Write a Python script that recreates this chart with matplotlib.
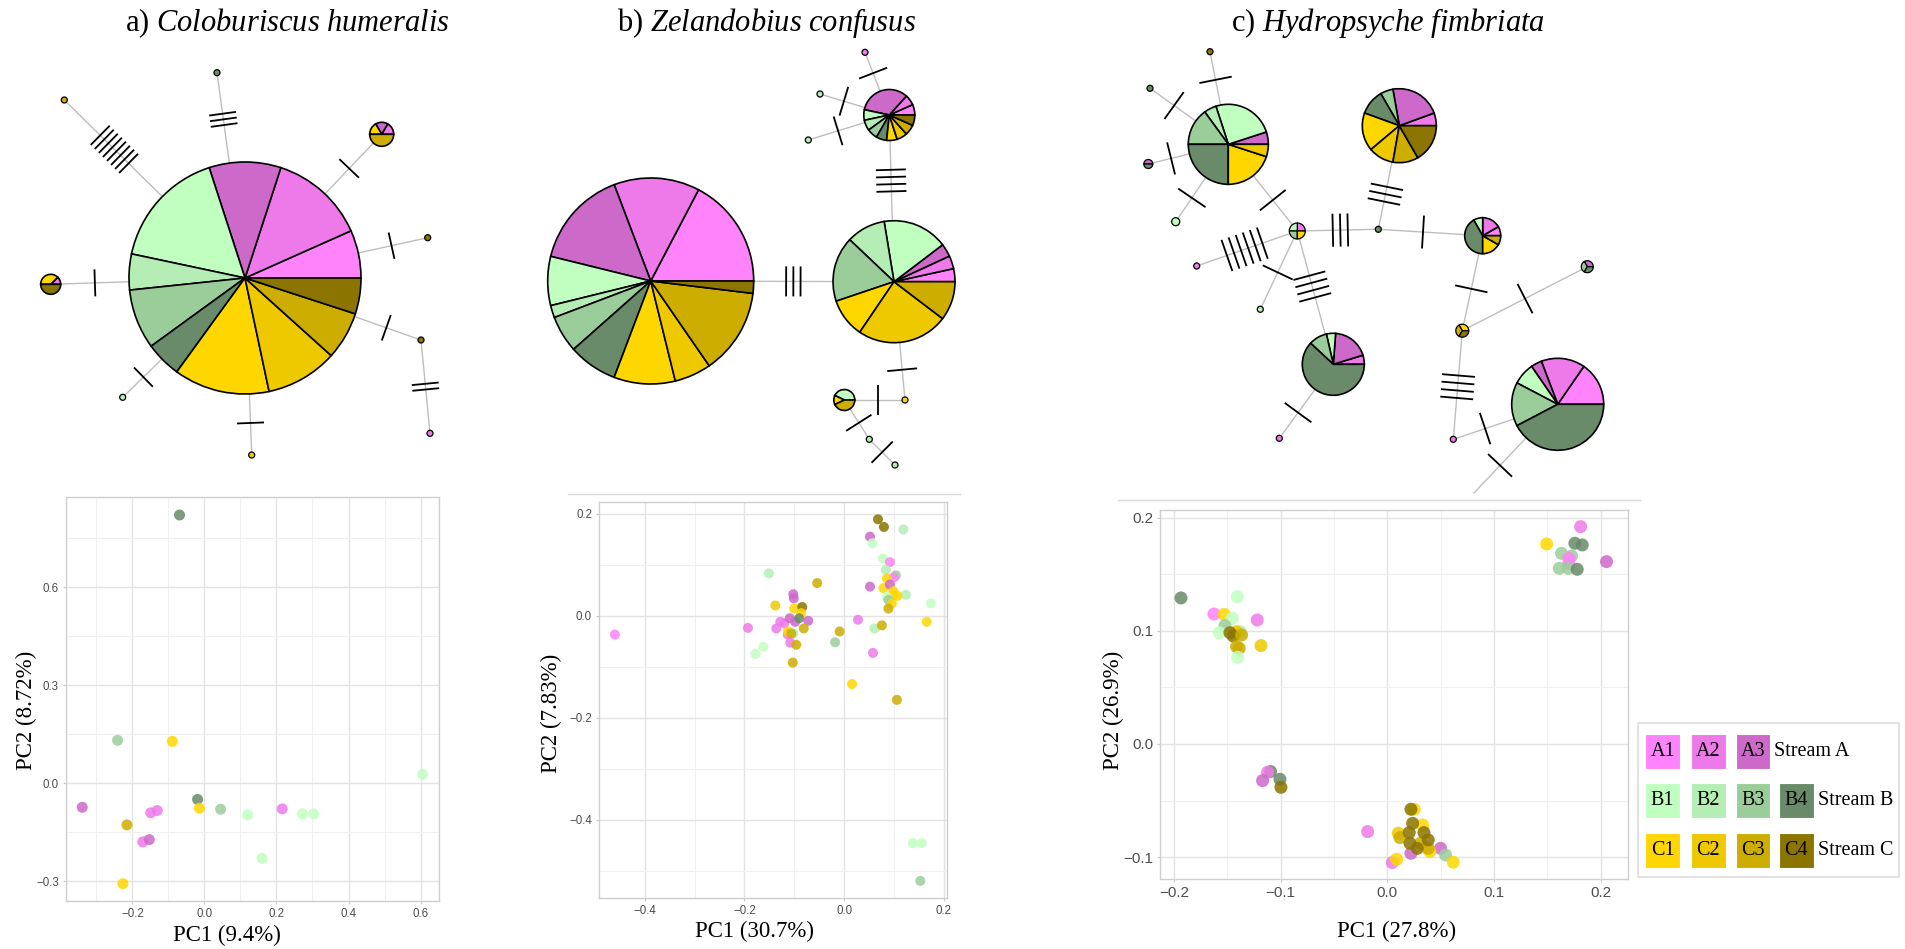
import numpy as np
import matplotlib.pyplot as plt
from matplotlib.patches import Rectangle

plt.rcParams['font.family'] = 'Liberation Serif'
plt.rcParams['mathtext.fontset'] = 'custom'
plt.rcParams['mathtext.rm'] = 'Liberation Serif'
plt.rcParams['mathtext.it'] = 'Liberation Serif:italic'

W, H = 1906, 949

groups = ['A1', 'A2', 'A3', 'B1', 'B2', 'B3', 'B4', 'C1', 'C2', 'C3', 'C4']
colours = ['#FF83FA', '#EE7AE9', '#CD69C9', '#C1FFC1', '#B4EEB4', '#9BCD9B',
           '#698B69', '#FFD700', '#EEC900', '#CDAD00', '#8B7500']
colour = dict(zip(groups, colours))

titles = ['a) $\\mathit{Coloburiscus\\ humeralis}$',
          'b) $\\mathit{Zelandobius\\ confusus}$',
          'c) $\\mathit{Hydropsyche\\ fimbriata}$']
title_x = [287, 767, 1388]

# ---- haplotype networks (node x, node y from top, radius, haplotype counts per site)
a_x = [245, 381.7, 50.7, 217, 64.3, 427.7, 421, 430, 122.7, 251.7]
a_y = [278, 134.3, 284.3, 72.7, 100, 237.7, 340, 433.3, 397.3, 455]
a_r = [116, 12, 10, 3, 3, 3, 3, 3, 3, 3]
a_comp = [
    {'A1': 4, 'A2': 8, 'A3': 6, 'B1': 10, 'B2': 3, 'B3': 5, 'B4': 3, 'C1': 8, 'C2': 6, 'C3': 4, 'C4': 3},
    {'A2': 1, 'A3': 1, 'C1': 1, 'C3': 3},
    {'A2': 1, 'C1': 3, 'C4': 4},
    {'B4': 1}, {'C3': 1}, {'C4': 1}, {'C4': 1}, {'A2': 1}, {'B2': 1}, {'C2': 1},
]
a_edges = [(0, 1, 1), (0, 2, 1), (0, 3, 3), (0, 4, 8), (0, 5, 1),
           (0, 6, 1), (6, 7, 2), (0, 8, 1), (0, 9, 1)]

b_x = [650.7, 894, 889.3, 865, 820, 808.3, 905, 844.3, 869.3, 895]
b_y = [281, 281.7, 115, 52.3, 94, 140, 400, 400, 439.3, 465]
b_r = [103, 61, 25.5, 3, 3, 3, 3, 10.5, 3, 3]
b_comp = [
    {'A1': 9, 'A2': 7, 'A3': 8, 'B1': 4, 'B2': 1, 'B3': 3, 'B4': 4, 'C1': 5, 'C2': 3, 'C3': 7, 'C4': 1},
    {'A1': 1, 'A2': 1, 'A3': 1, 'B1': 5, 'B2': 3, 'B3': 5, 'C1': 3, 'C2': 7, 'C3': 3},
    {'A1': 1, 'A2': 1, 'A3': 5, 'B1': 1, 'B2': 1, 'B3': 1, 'B4': 1, 'C1': 1, 'C2': 1, 'C3': 1, 'C4': 1},
    {'A2': 1}, {'B2': 1}, {'B2': 1}, {'C1': 1},
    {'B1': 3, 'C1': 1, 'C3': 3},
    {'B2': 1}, {'B2': 1},
]
b_edges = [(0, 1, 3), (2, 1, 4), (2, 3, 1), (2, 4, 1), (2, 5, 1),
           (1, 6, 1), (6, 7, 1), (7, 8, 1), (8, 9, 1)]

c_x = [1228.3, 1399.3, 1297.3, 1378.3, 1482.7, 1333.3, 1557.7, 1587.3, 1462.3,
       1210, 1150, 1148.3, 1175.7, 1196.7, 1260.3, 1279.3, 1453.3, 1474]
c_y = [144.3, 125.7, 231, 229.3, 235.7, 364.3, 404.3, 266.7, 330.7,
       51.7, 88.3, 164, 221.7, 266, 309.3, 438.3, 439.3, 493]
c_r = [40, 37, 8, 3, 18, 31, 46, 6, 6.5, 3, 3, 4.5, 4, 3, 3, 3, 3, 0]
c_comp = [
    {'A3': 1, 'B1': 5, 'B2': 1, 'B3': 3, 'B4': 5, 'C1': 4, 'C2': 1},
    {'A2': 1, 'A3': 4, 'B3': 1, 'B4': 2, 'C1': 3, 'C2': 2, 'C3': 2, 'C4': 3},
    {'A2': 1, 'B1': 1, 'B3': 1, 'C1': 1},
    {'B4': 1},
    {'A1': 1, 'A2': 2, 'B1': 1, 'B4': 5, 'C1': 2, 'C3': 1},
    {'A2': 1, 'A3': 4, 'B1': 1, 'B3': 2, 'B4': 13},
    {'A1': 4, 'A2': 4, 'A3': 1, 'B1': 2, 'B3': 4, 'B4': 11},
    {'A3': 1, 'B3': 1, 'B4': 1},
    {'C1': 1, 'C3': 1, 'C4': 1},
    {'C4': 1}, {'B4': 1}, {'A3': 1, 'B4': 1}, {'B1': 1}, {'A2': 1}, {'B2': 1},
    {'A2': 1}, {'A2': 1}, {},
]
c_edges = [(0, 9, 1), (0, 10, 1), (0, 11, 1), (0, 12, 1), (0, 2, 1), (2, 3, 3),
           (3, 1, 3), (3, 4, 1), (2, 13, 6), (2, 14, 1), (2, 5, 4), (5, 15, 1),
           (4, 8, 1), (8, 7, 1), (8, 16, 4), (16, 6, 1), (6, 17, 1)]

# ---- PCA scores
a_pc1 = [-0.069, -0.241, -0.089, 0.606, -0.019, -0.339, -0.149, -0.131, -0.014, 0.045,
         0.120, 0.216, 0.272, 0.303, -0.215, -0.171, -0.153, 0.160, -0.226]
a_pc2 = [0.821, 0.131, 0.128, 0.027, -0.050, -0.074, -0.091, -0.084, -0.077, -0.080,
         -0.097, -0.079, -0.094, -0.094, -0.128, -0.180, -0.173, -0.230, -0.308]
a_grp = ['B4', 'B3', 'C1', 'B1', 'B4', 'A3', 'A2', 'A2', 'C1', 'B3',
         'B1', 'A2', 'B1', 'B1', 'C3', 'A2', 'A3', 'B1', 'C1']

b_pc1 = [-0.460, -0.193, -0.178, -0.162, -0.151, -0.138, -0.136, -0.128, -0.120, -0.113,
         -0.113, -0.102, -0.101, -0.102, -0.100, -0.084, -0.086, -0.109, -0.098, -0.090,
         -0.072, -0.081, -0.106, -0.108, -0.096, -0.103, -0.054, -0.018, -0.009, 0.016,
         0.028, 0.061, 0.076, 0.058, 0.068, 0.080, 0.119, 0.052, 0.057, 0.078,
         0.092, 0.084, 0.104, 0.100, 0.086, 0.052, 0.079, 0.092, 0.099, 0.099,
         0.124, 0.107, 0.086, 0.089, 0.096, 0.089, 0.174, 0.166, 0.138, 0.156,
         0.153, 0.106]
b_pc2 = [-0.037, -0.024, -0.075, -0.061, 0.083, 0.020, -0.025, -0.012, -0.015, -0.037,
         -0.031, 0.042, 0.034, -0.035, 0.014, 0.017, 0.005, -0.005, -0.012, -0.005,
         -0.010, -0.025, -0.035, -0.053, -0.057, -0.092, 0.064, -0.052, -0.031, -0.134,
         -0.008, -0.025, -0.019, -0.073, 0.189, 0.174, 0.169, 0.155, 0.142, 0.112,
         0.105, 0.090, 0.079, 0.075, 0.073, 0.057, 0.054, 0.061, 0.048, 0.041,
         0.041, 0.039, 0.037, 0.031, 0.024, 0.014, 0.024, -0.012, -0.446, -0.446,
         -0.520, -0.165]
b_grp = ['A1', 'A2', 'B1', 'B1', 'B2', 'C2', 'A2', 'A2', 'A2', 'A2',
         'C1', 'A3', 'A3', 'B2', 'C1', 'C4', 'C1', 'A3', 'A3', 'B4',
         'A3', 'C3', 'C3', 'A2', 'C3', 'C3', 'C3', 'B3', 'C3', 'C1',
         'A2', 'B2', 'C3', 'A2', 'C4', 'C4', 'B2', 'A3', 'B1', 'B1',
         'A1', 'B2', 'B3', 'A1', 'C1', 'A3', 'C1', 'A3', 'C1', 'C1',
         'B2', 'C1', 'B1', 'B3', 'C1', 'C3', 'B1', 'C1', 'B1', 'B1',
         'B3', 'C3']

c_pc1 = [-0.1934, -0.1625, -0.1528, -0.1406, -0.1453, -0.1522, -0.1575, -0.1381, -0.1413, -0.1475,
         -0.1444, -0.1366, -0.1413, -0.1388, -0.1403, -0.1219, -0.1184,
         -0.1094, -0.1122, -0.1169, -0.1006, -0.0997,
         -0.0184, 0.0222, 0.0500, 0.0547, 0.0047, 0.0253, 0.0331, 0.0400, 0.0088, 0.0619,
         0.0103, 0.0119, 0.0384, 0.0313, 0.0222, 0.0238, 0.0206, 0.0344, 0.0384, 0.0213, 0.0281,
         0.1813, 0.1494, 0.1759, 0.1828, 0.1634, 0.1728, 0.1703, 0.1703, 0.1613, 0.1697,
         0.1781, 0.2056]
c_pc2 = [0.1290, 0.1148, 0.1145, 0.1302, 0.1110, 0.1045, 0.0983, 0.0992, 0.0992, 0.0983,
         0.0954, 0.0963, 0.0860, 0.0845, 0.0766, 0.1095, 0.0869,
         -0.0244, -0.0250, -0.0324, -0.0312, -0.0383,
         -0.0774, -0.0966, -0.0922, -0.0981, -0.1048, -0.0577, -0.0716, -0.0951, -0.1019, -0.1045,
         -0.0789, -0.0827, -0.0922, -0.0877, -0.0577, -0.0701, -0.0783, -0.0783, -0.0848, -0.0877, -0.0922,
         0.1920, 0.1767, 0.1773, 0.1758, 0.1684, 0.1661, 0.1640, 0.1596, 0.1552, 0.1552,
         0.1543, 0.1611]
c_grp = ['B4', 'A1', 'C1', 'B1', 'B1', 'B3', 'B1', 'B2', 'C2', 'C4',
         'C4', 'C3', 'C3', 'C3', 'B1', 'A2', 'C2',
         'B4', 'A2', 'A3', 'B4', 'C4',
         'A2', 'A3', 'A3', 'B3', 'A2', 'C1', 'C1', 'C1', 'C1', 'C1',
         'C2', 'C3', 'C3', 'C3', 'C4', 'C4', 'C4', 'C4', 'C4', 'C4', 'C4',
         'A2', 'C1', 'B4', 'B4', 'B3', 'B3', 'A1', 'A1', 'B3', 'B3',
         'B4', 'A3']

legend_rows = [['A1', 'A2', 'A3'], ['B1', 'B2', 'B3', 'B4'], ['C1', 'C2', 'C3', 'C4']]
legend_names = ['Stream A', 'Stream B', 'Stream C']


fig = plt.figure(figsize=(W / 100, H / 100), dpi=100)


def pca_panel(box, pc1, pc2, grp, xlim, ylim, xmajor, ymajor, xlab, ylab,
              xlab_at, ylab_at, tick_size, dot_px):
    l, t, r, b = box
    ax = fig.add_axes([l / W, 1 - b / H, (r - l) / W, (b - t) / H])
    ax.scatter(pc1, pc2, c=[colour[g] for g in grp], s=(dot_px * 0.72) ** 2,
               alpha=0.85, edgecolors='none', zorder=3)
    ax.set_xlim(xlim)
    ax.set_ylim(ylim)
    for axis, major, lim in ((ax.xaxis, xmajor, xlim), (ax.yaxis, ymajor, ylim)):
        step = major[1] - major[0]
        minor = np.arange(major[0] - step / 2, major[-1] + step, step)
        minor = [m for m in minor if lim[0] < m < lim[1]]
        axis.set_ticks(major)
        axis.set_ticklabels([f'{v:.1f}'.replace('-', '\u2212') for v in major])
        axis.set_ticks(minor, minor=True)
    ax.grid(which='major', color='#E3E3E3', lw=1.0)
    ax.grid(which='minor', color='#F0F0F0', lw=0.8)
    ax.set_axisbelow(True)
    ax.tick_params(which='major', length=2, color='#C8C8C8', pad=3,
                   labelsize=tick_size, labelcolor='#4D4D4D')
    ax.tick_params(which='minor', length=0)
    for lab in ax.get_xticklabels() + ax.get_yticklabels():
        lab.set_family('Liberation Sans')
    for s in ax.spines.values():
        s.set_color('#CFCFCF')
        s.set_linewidth(1.0)
    ax.set_xlabel(xlab, fontsize=16.5)
    ax.set_ylabel(ylab, fontsize=16.5)
    ax.xaxis.set_label_coords((xlab_at[0] - l) / (r - l), (b - xlab_at[1]) / (b - t))
    ax.yaxis.set_label_coords((ylab_at[0] - l) / (r - l), (b - ylab_at[1]) / (b - t))
    ax.xaxis.label.set_va('center')
    ax.yaxis.label.set_va('center')
    return ax


pca_panel((65.7, 496.7, 439.3, 901), a_pc1, a_pc2, a_grp, (-0.385, 0.652), (-0.361, 0.877),
          [-0.2, 0.0, 0.2, 0.4, 0.6], [-0.3, 0.0, 0.3, 0.6],
          'PC1 (9.4%)', 'PC2 (8.72%)', (226.7, 935), (26.7, 710), 8.3, 11)
pca_panel((599, 501.7, 946.7, 897.7), b_pc1, b_pc2, b_grp, (-0.492, 0.206), (-0.553, 0.2235),
          [-0.4, -0.2, 0.0, 0.2], [-0.4, -0.2, 0.0, 0.2],
          'PC1 (30.7%)', 'PC2 (7.83%)', (755, 931.7), (551.7, 713), 8.3, 10)
pca_panel((1160.3, 510, 1628.3, 879), c_pc1, c_pc2, c_grp, (-0.2128, 0.226), (-0.1193, 0.2067),
          [-0.2, -0.1, 0.0, 0.1, 0.2], [-0.1, 0.0, 0.1, 0.2],
          'PC1 (27.8%)', 'PC2 (26.9%)', (1396.7, 931.7), (1113.3, 710), 11, 13)

# overlay in pixel units (y upwards) for networks, titles and legend
net = fig.add_axes([0, 0, 1, 1])


def draw_network(nx, ny, nr, comp, edges, tlen, tgap):
    x = np.array(nx, float)
    y = H - np.array(ny, float)
    for i, j, steps in edges:
        net.plot([x[i], x[j]], [y[i], y[j]], color='#BEBEBE', lw=1.0, zorder=1)
        d = np.array([x[j] - x[i], y[j] - y[i]])
        u = d / np.hypot(*d)
        n = np.array([-u[1], u[0]])
        p0 = np.array([x[i], y[i]]) + u * nr[i]
        p1 = np.array([x[j], y[j]]) - u * nr[j]
        mid = (p0 + p1) / 2
        for k in range(steps):
            c = mid + u * (k - (steps - 1) / 2) * tgap
            e0, e1 = c - n * tlen / 2, c + n * tlen / 2
            net.plot([e0[0], e1[0]], [e0[1], e1[1]], color='black', lw=1.3,
                     zorder=2, solid_capstyle='butt')
    for i in range(len(x)):
        if nr[i] == 0 or not comp[i]:
            continue
        vals = [comp[i][g] for g in groups if g in comp[i]]
        cols = [colour[g] for g in groups if g in comp[i]]
        net.pie(vals, colors=cols, center=(x[i], y[i]), radius=nr[i], startangle=0,
                counterclock=True,
                wedgeprops=dict(edgecolor='black', linewidth=1.2 if nr[i] > 8 else 0.9, zorder=3))


draw_network(a_x, a_y, a_r, a_comp, a_edges, 27, 5.7)
draw_network(b_x, b_y, b_r, b_comp, b_edges, 30, 7.2)
draw_network(c_x, c_y, c_r, c_comp, c_edges, 33, 7.5)

for t, tx in zip(titles, title_x):
    net.text(tx, H - 23, t, ha='center', va='center', fontsize=22)

net.plot([568, 960], [H - 494, H - 494], color='#D9D9D9', lw=1.0)
net.plot([1118, 1640], [H - 500, H - 500], color='#D9D9D9', lw=1.0)

# legend
net.add_patch(Rectangle((1638.3, H - 876.7), 261, 154, facecolor='white',
                        edgecolor='#E3E3E3', lw=1.5, zorder=4))
key_x = [1645.3, 1691, 1735.7, 1779]
row_y = [751.7, 800.7, 850.7]
for row, name, ry in zip(legend_rows, legend_names, row_y):
    for g, kx in zip(row, key_x):
        net.add_patch(Rectangle((kx, H - ry - 17.35), 34.7, 34.7, facecolor=colour[g],
                                edgecolor='white', lw=0.8, zorder=5))
        net.text(kx + 17.35, H - ry, g, ha='center', va='center', fontsize=14.5, zorder=6)
    net.text(key_x[len(row) - 1] + 34.7 + 4, H - ry, name, ha='left', va='center',
             fontsize=14.5, zorder=6)

net.set_xlim(0, W)
net.set_ylim(0, H)
net.set_aspect('auto')
net.set_axis_off()

fig.savefig('out.png', dpi=100)
